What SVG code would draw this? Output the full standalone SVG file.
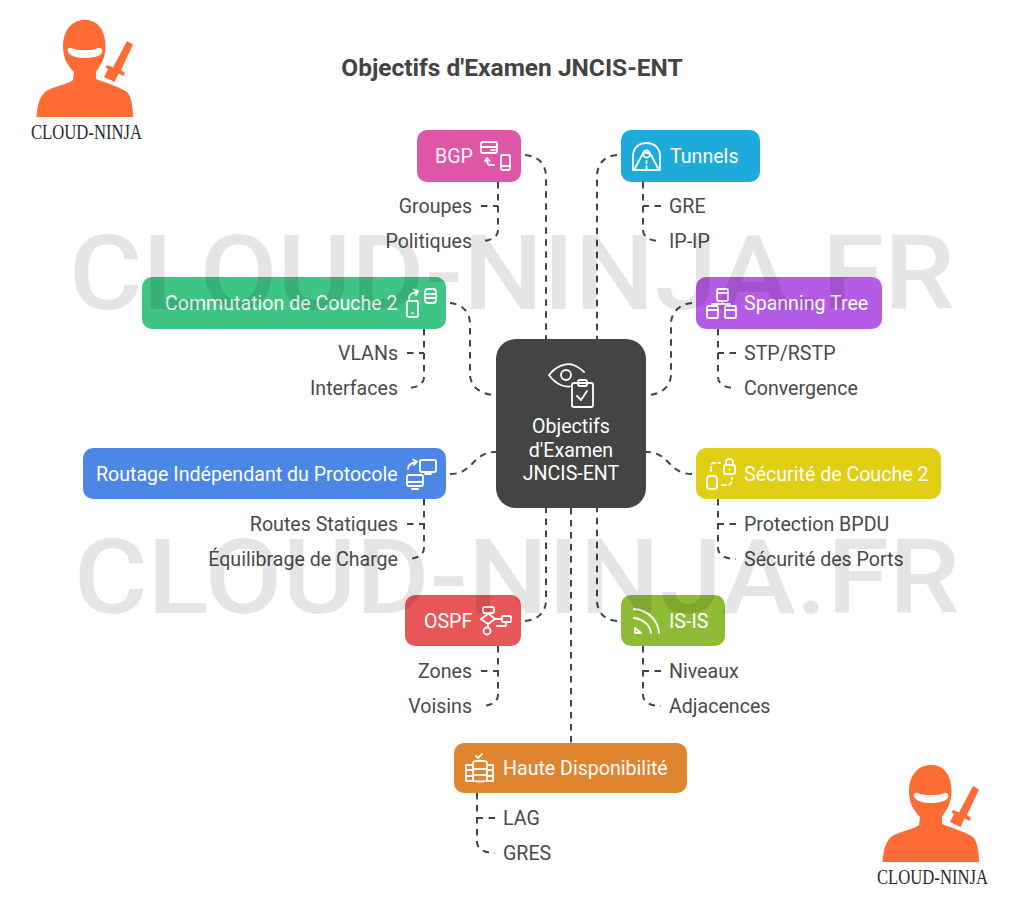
<svg xmlns="http://www.w3.org/2000/svg" width="1024" height="913" viewBox="0 0 1024 913">
<style>
.t{font-family:Roboto,"Liberation Sans",sans-serif;font-size:19.6px;fill:#fff}
.s{font-family:Roboto,"Liberation Sans",sans-serif;font-size:19.6px;fill:#4a4a4a}
.r{text-anchor:end}
.c{fill:none;stroke:#444;stroke-width:2;stroke-dasharray:6.500 5.500}
.i{fill:none;stroke:#fff;stroke-width:1.800;stroke-linecap:round;stroke-linejoin:round}
.wm{font-family:Roboto,"Liberation Sans",sans-serif;font-size:104px;font-weight:500;fill:#000;fill-opacity:.1}
.lg{font-family:"Liberation Serif",serif;font-size:21px;fill:#2a2a2a}
</style>
<defs>
<g id="ninja">
<path fill="#ff6b35" d="M36.500 117C37.500 104 40 95 47 90.500C56 86 68 84 73 80L74 72C68 66 63 58 63 47C63 30 72 20 85 20C98 20 105.500 30 105.500 47C105.500 58 100 66 96 72L96 79C106 83 120 87 127 92C131 96 133 106 133 117Z"/>
<path fill="#fff" d="M71 48C78 51 92 51 98 48C103 47 104 52 100 55C94 59 76 59 71 55C66 52 67 47 71 48Z"/>
<path fill="#ff6b35" d="M127 41L133 44.500L121 70L125 73L123.500 76L118.500 73.500L114.500 82L104 77L108 69L105.500 67.500L107 65L113 67.500Z"/>
</g>
</defs>
<rect width="1024" height="913" fill="#fff"/>
<text x="512" y="76" text-anchor="middle" style="font-family:Roboto,'Liberation Sans',sans-serif;font-size:24.500px;font-weight:700;fill:#444">Objectifs d'Examen JNCIS-ENT</text>
<g id="logo-top"><use href="#ninja"/><text class="lg" x="31" y="139" textLength="111" lengthAdjust="spacingAndGlyphs">CLOUD-NINJA</text></g>
<g id="logo-bottom"><use href="#ninja" x="846" y="745"/><text class="lg" x="877" y="884" textLength="111" lengthAdjust="spacingAndGlyphs">CLOUD-NINJA</text></g>
<g id="connectors">
<path class="c" d="M525 155C538 156 546 164 546 177V339"/>
<path class="c" d="M617 155C604 156 597 164 597 177V339"/>
<path class="c" d="M450 303C462 304 470 312 470 324V374C470 386 480 395 496 395"/>
<path class="c" d="M692 303C680 304 671 312 671 324V374C671 386 662 395 646 395"/>
<path class="c" d="M450 474C474 474 472 452 496 452"/>
<path class="c" d="M692 474C668 474 670 452 646 452"/>
<path class="c" d="M525 621C538 620 546 612 546 600V508"/>
<path class="c" d="M617 621C604 620 597 612 597 600V508"/>
<path class="c" d="M571 508V743"/>
<path class="c" d="M498 182V230C498 237 491 241 481 241M481 206H498"/>
<path class="c" d="M643 182V230C643 237 650 241 661 241M661 206H643"/>
<path class="c" d="M424 329V377C424 384 417 388 407 388M407 353H424"/>
<path class="c" d="M718 329V377C718 384 725 388 736 388M736 353H718"/>
<path class="c" d="M424 499V548C424 555 417 559 407 559M407 524H424"/>
<path class="c" d="M718 499V548C718 555 725 559 736 559M736 524H718"/>
<path class="c" d="M498 646V695C498 702 491 706 481 706M481 671H498"/>
<path class="c" d="M643 646V695C643 702 650 706 661 706M661 671H643"/>
<path class="c" d="M477 793V842C477 849 484 853 495 853M495 818H477"/>
</g>
<g id="center"><rect x="496" y="339" width="150" height="169" rx="20" fill="#444"/>
<path class="i" d="M549 375C556 366 565 363 572 364.500C577 366 581 369 584 372M549 375C556 385 566 388 572 386"/><circle class="i" cx="566" cy="375" r="5"/>
<rect class="i" x="572" y="383" width="21" height="24" rx="2"/><rect class="i" x="578" y="380" width="9" height="6" rx="2"/><path class="i" d="M577 396L581 400L587 391"/>
<text class="t" text-anchor="middle" x="571" y="433">Objectifs</text><text class="t" text-anchor="middle" x="571" y="457">d'Examen</text><text class="t" text-anchor="middle" x="571" y="480">JNCIS-ENT</text></g>
<g id="bgp"><rect x="417" y="130" width="104" height="52" rx="10" fill="#e056a7"/><text class="t" x="435" y="163">BGP</text>
<rect class="i" x="481" y="142" width="16" height="11" rx="2"/><path class="i" d="M481 147H497M491 150H495"/><rect class="i" x="501" y="155" width="9" height="15" rx="1.500"/><path class="i" d="M501 166H510M494 165H490C488 165 487 163 487 160M485 161L487 158L489.500 161"/></g>
<g id="tunnels"><rect x="621" y="130" width="139" height="52" rx="10" fill="#1eabdc"/><text class="t" x="670" y="163">Tunnels</text>
<path class="i" d="M633 170V156C633 148 639 143 646.500 143C654 143 660 148 660 156V170ZM634 170L642 155C644 152 649 152 651 155L659 170M646.500 161V163M646.500 166V169"/><circle class="i" cx="646.500" cy="154" r="3.500"/></g>
<g id="commutation"><rect x="142" y="277" width="304" height="52" rx="10" fill="#3ec583"/><text class="t" x="165" y="310">Commutation de Couche 2</text>
<rect class="i" x="407" y="301" width="11" height="16" rx="1.500"/><circle cx="412.500" cy="313" r="1" fill="#fff"/><rect class="i" x="425" y="289" width="11" height="14" rx="3"/><path class="i" d="M425 294H436M425 298H436M409 299C409 294 412 293 417 292M414 289.500L418 291L416 295"/></g>
<g id="spanning"><rect x="696" y="277" width="186" height="52" rx="10" fill="#b65be5"/><text class="t" x="744" y="310">Spanning Tree</text>
<rect class="i" x="717" y="289" width="11" height="12" rx="1.500"/><path class="i" d="M717 293H728M722 301V304M712 306V304H730V306"/><rect class="i" x="707" y="306" width="11" height="12" rx="1.500"/><rect class="i" x="725" y="306" width="11" height="12" rx="1.500"/><path class="i" d="M707 310H718M725 310H736"/></g>
<g id="routage"><rect x="83" y="448" width="363" height="51" rx="10" fill="#4c87e6"/><text class="t" x="96" y="481">Routage Indépendant du Protocole</text>
<rect class="i" x="420" y="460" width="16" height="12" rx="2"/><path class="i" d="M425 474H431"/><rect class="i" x="407" y="475" width="16" height="11" rx="2"/><path class="i" d="M407 482H423M412 489H418M408 469C408 465 411 463 416 462M413 459.500L417 461.500L414 465"/></g>
<g id="securite"><rect x="696" y="448" width="245" height="51" rx="10" fill="#e0cd14"/><text class="t" x="744" y="481">Sécurité de Couche 2</text>
<rect class="i" x="724" y="465" width="11" height="9" rx="2"/><path class="i" d="M726 465V462C726 458 733 458 733 462V465"/><circle cx="729.500" cy="469.500" r="1" fill="#fff"/><rect class="i" x="707" y="476" width="10" height="13" rx="3"/><path class="i" d="M711 471V467C711 464 712 463 714 463H720M722 485C731 486 732 484 732 478" stroke-dasharray="4 3"/></g>
<g id="ospf"><rect x="405" y="595" width="116" height="51" rx="10" fill="#e85757"/><text class="t" x="424" y="628">OSPF</text>
<rect class="i" x="483" y="607" width="11" height="6" rx="2"/><path class="i" d="M488 613V614L481 619L488 624L495 619ZM495 619H502M488 624V627"/><circle class="i" cx="487" cy="631" r="3.500"/><rect class="i" x="502" y="616" width="9" height="6" rx="1"/><path class="i" d="M506 622V626H497"/></g>
<g id="isis"><rect x="621" y="595" width="104" height="51" rx="10" fill="#8fbc37"/><text class="t" x="669" y="628">IS-IS</text>
<path class="i" d="M634 609C648 610 658 620 659 633M634 618C643 619 650 625 651 633M635 628L641 633H635Z"/></g>
<g id="haute"><rect x="454" y="743" width="233" height="50" rx="10" fill="#e0852f"/><text class="t" x="503" y="775">Haute Disponibilité</text>
<path class="i" d="M473 763C473 760 487 760 487 763V780C487 782 473 782 473 780ZM473 769H487M473 775H487M473 765H466V781H473M487 765H493V781H487M466 770H473M466 776H473M487 770H493M487 776H493M476 756L478 758L482 754"/></g>
<g id="subs">
<text class="s r" x="472" y="213">Groupes</text><text class="s r" x="472" y="248">Politiques</text>
<text class="s" x="669" y="213">GRE</text><text class="s" x="669" y="248">IP-IP</text>
<text class="s r" x="398" y="360">VLANs</text><text class="s r" x="398" y="395">Interfaces</text>
<text class="s" x="744" y="360">STP/RSTP</text><text class="s" x="744" y="395">Convergence</text>
<text class="s r" x="398" y="531">Routes Statiques</text><text class="s r" x="398" y="566">Équilibrage de Charge</text>
<text class="s" x="744" y="531">Protection BPDU</text><text class="s" x="744" y="566">Sécurité des Ports</text>
<text class="s r" x="472" y="678">Zones</text><text class="s r" x="472" y="713">Voisins</text>
<text class="s" x="669" y="678">Niveaux</text><text class="s" x="669" y="713">Adjacences</text>
<text class="s" x="503" y="825">LAG</text><text class="s" x="503" y="860">GRES</text>
</g>
<g id="watermark"><text class="wm" x="69" y="309" textLength="886" lengthAdjust="spacingAndGlyphs">CLOUD-NINJA.FR</text><text class="wm" x="74" y="613" textLength="886" lengthAdjust="spacingAndGlyphs">CLOUD-NINJA.FR</text></g>
</svg>
